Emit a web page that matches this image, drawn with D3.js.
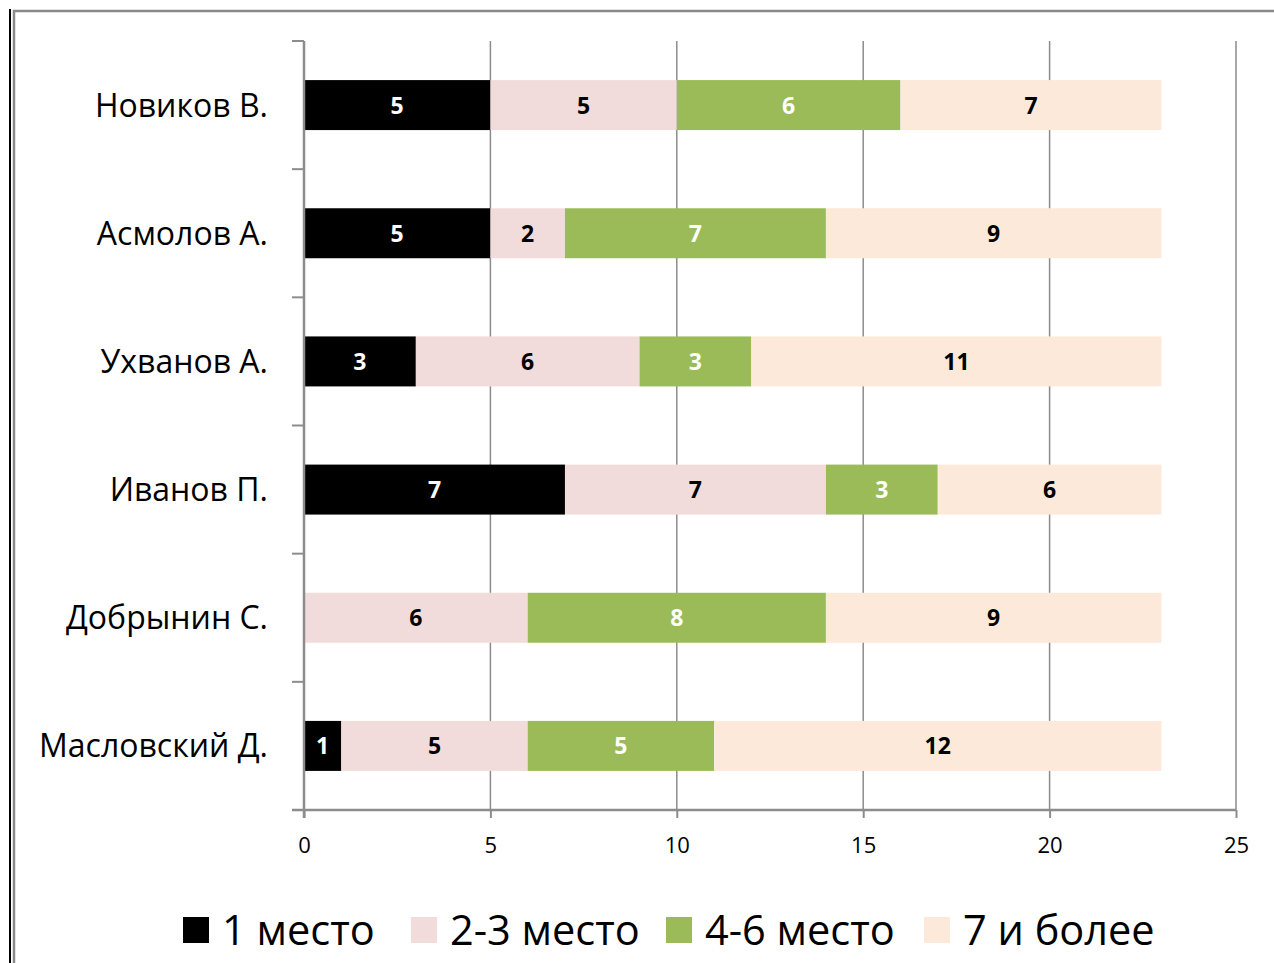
<!DOCTYPE html>
<html><head><meta charset="utf-8">
<script src="https://cdn.jsdelivr.net/npm/d3@7"></script>
<style>body{margin:0;background:#fff;}svg{display:block;font-family:"Open Sans",sans-serif;}</style>
</head><body>
<svg id="c" width="1274" height="963"></svg>
<script>
const categories = ["Новиков В.", "Асмолов А.", "Ухванов А.", "Иванов П.", "Добрынин С.", "Масловский Д."];
const seriesNames = ["1 место", "2-3 место", "4-6 место", "7 и более"];
const place1 = [5, 5, 3, 7, 0, 1];
const place2_3 = [5, 2, 6, 7, 6, 5];
const place4_6 = [6, 7, 3, 3, 8, 5];
const place7plus = [7, 9, 11, 6, 9, 12];
const xTicks = [0, 5, 10, 15, 20, 25];
const colors = ["#000000", "#F2DCDB", "#9BBB59", "#FDE9D9"];
const labelColors = ["#ffffff", "#000000", "#ffffff", "#000000"];

(function(){
const svg = d3.select("#c");
// frame
svg.append("line").attr("x1",10).attr("x2",10).attr("y1",9).attr("y2",963).attr("stroke","#000").attr("stroke-width",2);
svg.append("rect").attr("x",14).attr("y",11).attr("width",1300).attr("height",1000).attr("fill","none").attr("stroke","#8a8a8a").attr("stroke-width",2.5);

const pLeft = 304, pRight = 1236, pTop = 41, pBottom = 810;
const x = d3.scaleLinear().domain([0,25]).range([pLeft,pRight]);
const y = d3.scaleBand().domain(categories).range([pTop,pBottom]).paddingInner(0.61).paddingOuter(0.305);

const stackData = categories.map((c,i)=>{
  const vals=[place1[i],place2_3[i],place4_6[i],place7plus[i]];
  const o={cat:c}; seriesNames.forEach((s,j)=>o[s]=vals[j]); return o;});
const stacked = d3.stack().keys(seriesNames)(stackData);

// gridlines
svg.append("g").selectAll("line").data(xTicks.slice(1)).join("line")
  .attr("x1",d=>x(d)).attr("x2",d=>x(d)).attr("y1",pTop).attr("y2",pBottom)
  .attr("stroke","#8c8c8c").attr("stroke-width",1.5);

// bars
stacked.forEach((layer,j)=>{
  const lg = svg.append("g");
  lg.selectAll("rect").data(layer).join("rect")
    .attr("x",d=>x(d[0])).attr("width",d=>x(d[1])-x(d[0]))
    .attr("y",d=>y(d.data.cat)).attr("height",y.bandwidth())
    .attr("fill",colors[j]);
  lg.selectAll("text").data(layer.filter(d=>d[1]-d[0]>0)).join("text")
    .attr("x",d=>(x(d[0])+x(d[1]))/2).attr("y",d=>y(d.data.cat)+y.bandwidth()/2)
    .attr("dy","0.37em").attr("text-anchor","middle")
    .attr("font-weight","bold").attr("font-size",23).attr("fill",labelColors[j])
    .text(d=>d[1]-d[0]);
});

// x axis
const xAxis = d3.axisBottom(x).tickValues(xTicks).tickSize(8).tickPadding(19);
const xa = svg.append("g").attr("transform",`translate(0,${pBottom})`).call(xAxis);
xa.select(".domain").attr("stroke","#8c8c8c").attr("stroke-width",2.5).attr("d",`M${pLeft-12},0H${pRight}`);
xa.selectAll(".tick line").attr("stroke","#8c8c8c").attr("stroke-width",2);
xa.selectAll(".tick text").attr("font-size",22).attr("font-family","Open Sans").attr("fill","#000");

// y axis
const yBoundaries = d3.range(categories.length+1).map(i=>pTop + i*(pBottom-pTop)/categories.length);
svg.append("line").attr("x1",pLeft).attr("x2",pLeft).attr("y1",pTop).attr("y2",pBottom+8).attr("stroke","#8c8c8c").attr("stroke-width",2.5);
svg.append("g").selectAll("line").data(yBoundaries.slice(0,-1)).join("line")
  .attr("x1",pLeft-12).attr("x2",pLeft).attr("y1",d=>d).attr("y2",d=>d)
  .attr("stroke","#8c8c8c").attr("stroke-width",2);
svg.append("g").selectAll("text").data(categories).join("text")
  .attr("x",268).attr("y",d=>y(d)+y.bandwidth()/2).attr("dy","0.36em")
  .attr("text-anchor","end").attr("font-size",32).attr("fill","#000").text(d=>d);

// legend
const legendX = [183, 411, 666, 924];
const leg = svg.append("g");
seriesNames.forEach((s,j)=>{
  leg.append("rect").attr("x",legendX[j]).attr("y",917).attr("width",26).attr("height",26).attr("fill",colors[j]);
  leg.append("text").attr("x",legendX[j]+39).attr("y",930).attr("dy","0.36em").attr("font-size",41.5).attr("fill","#000").text(s);
});
})();
</script>
</body></html>
